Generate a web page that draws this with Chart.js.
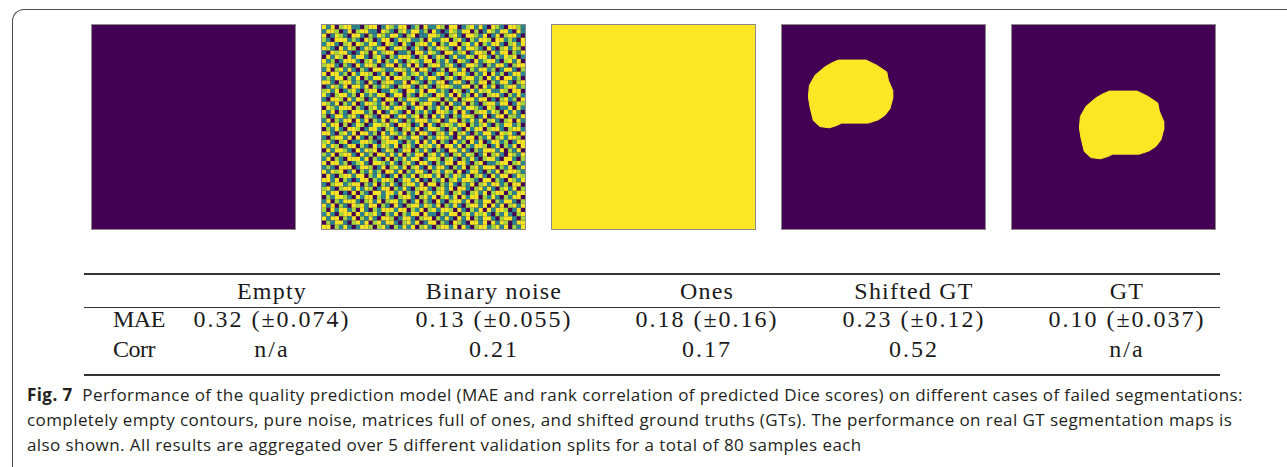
<!DOCTYPE html>
<html>
<head>
<meta charset="utf-8">
<script src="https://cdn.jsdelivr.net/npm/chart.js@4.4.0/dist/chart.umd.min.js"></script>
<style>
  body { margin: 0; width: 1287px; height: 467px; overflow: hidden; background: #fff; position: relative; }
  #frame { position: absolute; left: 12px; top: 9px; width: 1400px; height: 600px;
    border-top: 1.5px solid #4a4a4a; border-left: 1.5px solid #4a4a4a; border-top-left-radius: 12px; }
  .panel { position: absolute; top: 24px; width: 203px; height: 204px; border: 1px solid #8a8a8a; overflow: hidden; }
  .panel canvas { display: block; }
  .panel.soft { background: #6f8a5a; }
  .panel.soft canvas { filter: blur(0.6px); }
  .rule { position: absolute; left: 84px; width: 1136px; background: #333; }
  .cell { position: absolute; width: 260px; text-align: center; white-space: nowrap;
    font-family: "Liberation Serif", "Times New Roman", serif; font-size: 24px; line-height: 24px; color: #1a1a1a; }
  .head { letter-spacing: 1.2px; }
  .val { letter-spacing: 2px; }
  .lab { text-align: left; letter-spacing: -0.5px; }
  .caption { position: absolute; left: 27px; white-space: nowrap; font-family: "Open Sans", sans-serif;
    font-size: 17px; line-height: 25px; letter-spacing: 0.42px; color: #231f20; }
</style>
</head>
<body>
<div id="frame"></div>
<div id="panels"></div>
<div id="table"></div>
<div class="caption" style="top:382px">
  <b>Fig. 7</b>&nbsp; Performance of the quality prediction model (MAE and rank correlation of predicted Dice scores) on different cases of failed segmentations:<br>
  completely empty contours, pure noise, matrices full of ones, and shifted ground truths (GTs). The performance on real GT segmentation maps is<br>
  also shown. All results are aggregated over 5 different validation splits for a total of 80 samples each
</div>

<script>
// table data
var categories = ['Empty', 'Binary noise', 'Ones', 'Shifted GT', 'GT'];
var maeMean = [0.32, 0.13, 0.18, 0.23, 0.10];
var maeStd = [0.074, 0.055, 0.16, 0.12, 0.037];
var corr = [null, 0.21, 0.17, 0.52, null];
var rowLabels = ['MAE', 'Corr'];

// mask outline of the GT blob (image units 0-100), and where each panel puts it
var blobOutline = [[27.7,17.2],[41.4,17.2],[46.6,19.7],[51.6,23],[52.4,27.1],[54.5,32],[54.5,36.1],
  [53.2,41],[50.7,44.3],[47.4,46.5],[42.5,48.1],[29.4,48.1],[26.9,49.3],[23.3,50.4],[18.7,49.8],
  [15.4,46.8],[13.8,40.2],[13,35.3],[13.5,29.6],[16.3,24.6],[21.2,20.5],[24.5,18.6]];
var shiftedOffset = [0, 0];
var gtOffset = [20.2, 15.2];
var onesOutline = [[0,0],[100,0],[100,100],[0,100]];

// binary noise (smoothed): 0 purple, 1 teal, 2 green, 3 yellow
var noiseRows = [
  '31302331 10233013 21330120 31132033 01231310 32103321',
  '13320130 23311032 10231331 20310132 13302013 21331031',
  '30132103 31021321 33102301 13321023 10332130 13023310',
  '21033312 10320133 01323112 03113302 31021332 03312103',
  '13310230 32133103 21031023 31302133 02313021 33102313',
  '32103132 01321330 13320131 02133210 31332103 10231320',
  '10323310 13203123 30112033 13210331 23013320 31330213',
  '03132031 33102310 21333102 30132013 11320331 02132301',
  '31201333 10231302 13102321 33021310 32103123 31023130',
  '23310210 31332013 30213031 02331231 01332102 13310233',
  '13023131 02103321 13321303 31012033 13021331 20133102',
  '30331203 13320130 21031231 20133102 33102130 31201331',
  '12133021 30213313 03322013 13310231 02331203 13033120',
  '33102331 21031023 31130321 02133013 31021330 21331023',
  '01321303 31302132 10233102 31023321 13302031 30123312',
  '23130123 10233011 32103313 03312103 20131323 11320330',
  '31023312 03121330 13302103 21033130 31203102 33102131',
  '10332031 32013103 30213321 13320213 02331330 10231203',
  '32130213 01332130 21031302 33102031 13021023 31330132',
  '03213330 21023123 13320133 02131302 31332103 20113031',
  '31302103 33120301 32103021 31033213 03102331 32031310',
  '20133123 10321033 01331230 20313102 13320130 13302213',
  '13021330 31302130 23102133 31230133 02131302 31023031',
  '31330201 32013323 10332013 03102321 33021231 02133120',
  '02131033 20133102 31023130 13321023 10313302 33102331',
  '33102313 03312031 32130203 31023130 23102133 10323103',
  '10233130 31020133 10321331 02133210 31330213 02313320',
  '23102301 13321023 33102130 31302103 12031301 33120133',
  '31320133 02103132 13023103 23130331 30213320 13021303',
  '03133210 31323013 20133021 31021033 13102133 31302130',
  '21302331 03120331 31302133 02313102 31320130 23103213',
  '13021033 31302103 02131330 13320231 02131023 31033102',
  '30331201 23103321 31023103 31021330 33102301 12330231',
  '12103330 13320130 23130231 03133102 13023133 30213013',
  '31323013 02131203 31302133 10231320 30133102 13023321',
  '03102331 33021310 13021302 33130213 21302310 31330132',
  '33130210 13302133 20133130 10213023 13321033 02103213',
  '10233123 30213021 31023313 03302131 02130231 33120330',
  '23102331 31320133 02131023 31023130 33102313 10231302',
  '31330103 02103313 31302130 23133102 31023130 23302133',
  '02133210 31330213 10233102 31302313 03133021 31021330',
  '13021333 10231302 33120130 21031023 31302133 02133102',
  '31302103 23133021 03102331 32130213 10233130 31302313',
  '20313312 03102133 31330213 02313320 31021303 13320130',
  '13102330 31323102 13021330 31102133 02313231 02131023',
  '31330213 02131033 20133102 33021310 31302133 10233102',
  '02133102 31302313 31023130 13302103 21033130 31320133',
  '33021310 13320231 02131302 31023313 03102331 23130213'
];

var purple = '#440154';
var yellow = '#fde725';
var noiseColors = { '1': '#2b868c', '2': '#a2d63c', '3': '#f4e424' };

// paints the image background (value 0) inside the chart area
var panelBg = {
  id: 'panelBg',
  beforeDraw: function (chart, args, opts) {
    var a = chart.chartArea;
    var ctx = chart.ctx;
    ctx.save();
    ctx.fillStyle = opts.color;
    ctx.fillRect(a.left, a.top, a.right - a.left, a.bottom - a.top);
    ctx.restore();
  }
};

function makePanel(index, size, datasets, soft) {
  var div = document.createElement('div');
  div.className = soft ? 'panel soft' : 'panel';
  div.style.left = (91 + index * 230) + 'px';
  var canvas = document.createElement('canvas');
  canvas.width = 203;
  canvas.height = 204;
  div.appendChild(canvas);
  document.getElementById('panels').appendChild(div);

  new Chart(canvas, {
    type: 'scatter',
    data: { datasets: datasets },
    options: {
      responsive: false,
      animation: false,
      events: [],
      layout: { padding: 0, autoPadding: false },
      plugins: {
        legend: { display: false },
        tooltip: { enabled: false },
        panelBg: { color: purple }
      },
      scales: {
        x: { type: 'linear', min: 0, max: size, display: false },
        y: { type: 'linear', min: 0, max: size, reverse: true, display: false }
      }
    },
    plugins: [panelBg]
  });
}

//Polygon mask filled with the "1" colour
function maskDataset(outline, offset) {
  var pts = outline.map(function (p) {
    return { x: p[0] + offset[0], y: p[1] + offset[1] };
  });
  pts.push(pts[0]);
  return {
    data: pts,
    showLine: true,
    fill: 'shape',
    backgroundColor: yellow,
    borderColor: yellow,
    borderWidth: 1,
    pointRadius: 0,
    tension: 0
  };
}

function noiseDatasets() {
  var grid = noiseRows.map(function (r) { return r.replace(/ /g, ''); });
  var sets = [];
  ['1', '2', '3'].forEach(function (code) {
    var pts = [];
    grid.forEach(function (row, y) {
      for (var x = 0; x < row.length; x++) {
        if (row[x] == code) pts.push({ x: x + 0.5, y: y + 0.5 });
      }
    });
    sets.push({
      data: pts,
      pointStyle: 'rect',
      pointRadius: 3.05,
      borderWidth: 0,
      backgroundColor: noiseColors[code],
      clip: false
    });
  });
  return { size: grid.length, sets: sets };
}

var noise = noiseDatasets();
makePanel(0, 100, []);
makePanel(1, noise.size, noise.sets, true);
makePanel(2, 100, [maskDataset(onesOutline, [0, 0])]);
makePanel(3, 100, [maskDataset(blobOutline, shiftedOffset)]);
makePanel(4, 100, [maskDataset(blobOutline, gtOffset)]);

//Table
var colCenters = [272, 494, 707, 914, 1127];
var table = document.getElementById('table');

function addRule(top, h) {
  var r = document.createElement('div');
  r.className = 'rule';
  r.style.top = top + 'px';
  r.style.height = h + 'px';
  table.appendChild(r);
}

function addCell(text, left, top, cls) {
  var c = document.createElement('div');
  c.className = 'cell ' + cls;
  c.style.left = left + 'px';
  c.style.top = top + 'px';
  c.textContent = text;
  table.appendChild(c);
}

addRule(273, 1.5);
addRule(306.5, 1);
addRule(374, 1.5);

var rowTops = [307, 337];
categories.forEach(function (name, i) {
  addCell(name, colCenters[i] - 130, 279, 'head');
  addCell(maeMean[i].toFixed(2) + ' (\u00b1' + maeStd[i] + ')', colCenters[i] - 130, rowTops[0], 'val');
  addCell(corr[i] == null ? 'n/a' : corr[i].toFixed(2), colCenters[i] - 130, rowTops[1], 'val');
});
rowLabels.forEach(function (label, j) {
  addCell(label, 113, rowTops[j], 'lab');
});
</script>
</body>
</html>
